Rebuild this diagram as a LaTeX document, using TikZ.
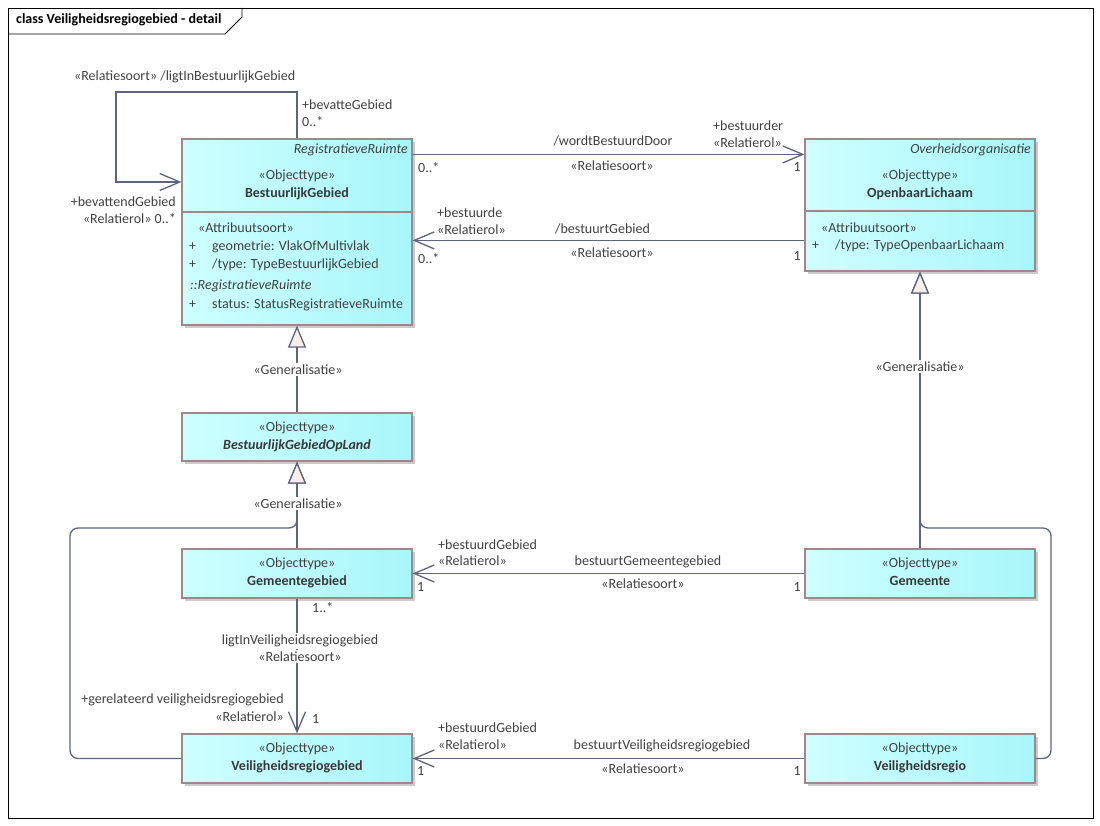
\documentclass[tikz,border=0pt]{standalone}
\usepackage{fontspec}
\setmainfont{Carlito}
\usetikzlibrary{arrows.meta,shadows,calc}
\definecolor{txt}{RGB}{64,64,64}
\definecolor{ln}{RGB}{92,100,128}
\definecolor{bd}{RGB}{160,136,136}
\definecolor{fl}{RGB}{206,255,255}
\definecolor{fr}{RGB}{168,246,250}
\definecolor{gf}{RGB}{248,238,234}
\newcommand{\fsz}{\fontsize{14pt}{16pt}\selectfont}
\tikzset{
  cls/.style={draw=bd, line width=1.2pt, left color=fl, right color=fr,
    drop shadow={shadow xshift=3pt,shadow yshift=-3pt,fill=black!20,opacity=1},
    inner sep=0pt, minimum width=230pt},
  conn/.style={draw=ln, line width=1.3pt},
  nav/.style={conn, -{Straight Barb[length=20pt,width=17pt]}},
  gen/.style={conn, -{Triangle[length=22pt,width=18pt,fill=gf]}},
  lbl/.style={text=txt, inner sep=0pt, anchor=mid},
  lw/.style={lbl, anchor=mid west},
  le/.style={lbl, anchor=mid east},
  brk/.style={lbl, fill=white, inner sep=2pt},
  nm/.style={lbl, font=\fsz\bfseries, text=black!78},
  it/.style={font=\fsz\itshape},
}
\begin{document}
\begin{tikzpicture}[x=1pt,y=-1pt,font=\fsz]
\useasboundingbox (0,0) rectangle (1100,826);
% frame
\draw[black, line width=0.8pt] (8,8) rectangle (1093,818);
\draw[black, line width=0.8pt] (8,34) -- (225,34) -- (242,17) -- (242,8);
\node[lw, font=\fsz\bfseries, text=black] (title) at (16,21) {class Veiligheidsregiogebied - detail};

% boxes
\node[cls, minimum height=186pt] (bg) at (297,232) {};
\node[cls, minimum height=132pt] (ol) at (920,205) {};
\node[cls, minimum height=48pt] (bgol) at (297,437) {};
\node[cls, minimum height=49pt] (gg) at (297,573.5) {};
\node[cls, minimum height=49pt] (gm) at (920,573.5) {};
\node[cls, minimum height=49pt] (vrg) at (297,758.5) {};
\node[cls, minimum height=49pt] (vr) at (920,758.5) {};
\draw[draw=bd, line width=1.2pt] (bg.west |- 0,212) -- (bg.east |- 0,212);
\draw[draw=bd, line width=1.2pt] (ol.west |- 0,211) -- (ol.east |- 0,211);

% BestuurlijkGebied contents
\node[le, it] (bgp) at (408,151) {RegistratieveRuimte};
\node[lbl] (bgs) at (297,177) {«Objecttype»};
\node[nm] (bgn) at (297,195) {BestuurlijkGebied};
\node[lw] (bga) at (198,230) {«Attribuutsoort»};
\node[lw] (bgp1) at (189,248) {+};
\node[lw] (bga1) at (212,248) {geometrie: VlakOfMultivlak};
\node[lw] (bgp2) at (189,266) {+};
\node[lw] (bga2) at (212,266) {/type: TypeBestuurlijkGebied};
\node[lw, it] (bgi) at (190,287) {::RegistratieveRuimte};
\node[lw] (bgp3) at (189,306) {+};
\node[lw] (bga3) at (212,306) {status: StatusRegistratieveRuimte};

% OpenbaarLichaam contents
\node[le, it] (olp) at (1031,151) {Overheidsorganisatie};
\node[lbl] (ols) at (920,177) {«Objecttype»};
\node[nm] (oln) at (920,195) {OpenbaarLichaam};
\node[lw] (ola) at (821,230) {«Attribuutsoort»};
\node[lw] (olp1) at (812,247) {+};
\node[lw] (ola1) at (835,247) {/type: TypeOpenbaarLichaam};

% other boxes
\node[lbl] (bgols) at (297,429) {«Objecttype»};
\node[nm, font=\fsz\bfseries\itshape] (bgoln) at (297,447) {BestuurlijkGebiedOpLand};
\node[lbl] (ggs) at (297,565) {«Objecttype»};
\node[nm] (ggn) at (297,583) {Gemeentegebied};
\node[lbl] (gms) at (920,565) {«Objecttype»};
\node[nm] (gmn) at (920,583) {Gemeente};
\node[lbl] (vrgs) at (297,750) {«Objecttype»};
\node[nm] (vrgn) at (297,768) {Veiligheidsregiogebied};
\node[lbl] (vrs) at (920,750) {«Objecttype»};
\node[nm] (vrn) at (920,768) {Veiligheidsregio};

% self loop
\coordinate (l1) at (297,92);
\coordinate (l2) at (116,92);
\coordinate (l3) at (116,182);
\draw[nav] (bg.north) -- (l1) -- (l2) -- (l3) -- (bg.west |- l3);
\node[lw] (sl1) at (74,78) {«Relatiesoort» /ligtInBestuurlijkGebied};
\node[lw] (sl2) at (302,107) {+bevatteGebied};
\node[lw] (sl3) at (302,124) {0..*};
\node[le] (sl4) at (176,204) {+bevattendGebied};
\node[le] (sl5) at (176,221) {«Relatierol» 0..*};

% wordtBestuurdDoor
\draw[nav] ($(bg.north east)+(0,16)$) -- ($(ol.north west)+(0,16)$);
\node[lbl] (a1n) at (613,143) {/wordtBestuurdDoor};
\node[lbl] (a1s) at (612,168) {«Relatiesoort»};
\node[lw] (a1m1) at (418,170) {0..*};
\node[lw] (a1r1) at (713,128) {+bestuurder};
\node[lw] (a1r2) at (713,145) {«Relatierol»};
\node[le] (a1m2) at (801,169) {1};

% bestuurtGebied
\draw[nav] ($(ol.north west)+(0,102)$) -- ($(bg.north east)+(0,102)$);
\node[lw] (a2r1) at (437,215) {+bestuurde};
\node[lw] (a2r2) at (437,232) {«Relatierol»};
\node[lw] (a2n) at (555,231) {/bestuurtGebied};
\node[lbl] (a2s) at (612,255) {«Relatiesoort»};
\node[lw] (a2m1) at (418,261) {0..*};
\node[le] (a2m2) at (801,258) {1};

% generalisations
\draw[gen] (bgol.north) -- (bg.south);
\node[brk] (g1) at (298,372) {«Generalisatie»};
\draw[gen] (gg.north) -- (bgol.south);
\draw[gen, rounded corners=8pt] (vrg.west) -- (70,758.5) -- (70,528) -- (297,528) -- (bgol.south);
\node[brk] (g2) at (298,506) {«Generalisatie»};
\draw[gen] (gm.north) -- (ol.south);
\draw[gen, rounded corners=8pt] (vr.east) -- (1051,758.5) -- (1051,528) -- (920,528) -- (ol.south);
\node[brk] (g3) at (920,369) {«Generalisatie»};

% bestuurtGemeentegebied
\draw[nav] (gm.west) -- (gg.east);
\node[lw] (a3r1) at (438,547) {+bestuurdGebied};
\node[lw] (a3r2) at (438,563) {«Relatierol»};
\node[lbl] (a3n) at (648,563) {bestuurtGemeentegebied};
\node[lbl] (a3s) at (643,586) {«Relatiesoort»};
\node[lw] (a3m1) at (417,589) {1};
\node[le] (a3m2) at (801,589) {1};

% bestuurtVeiligheidsregiogebied
\draw[nav] (vr.west) -- (vrg.east);
\node[lw] (a4r1) at (438,730) {+bestuurdGebied};
\node[lw] (a4r2) at (438,747) {«Relatierol»};
\node[lbl] (a4n) at (662,747) {bestuurtVeiligheidsregiogebied};
\node[lbl] (a4s) at (643,771) {«Relatiesoort»};
\node[lw] (a4m1) at (417,773) {1};
\node[le] (a4m2) at (801,773) {1};

% ligtInVeiligheidsregiogebied
\draw[nav] (gg.south) -- (vrg.north);
\node[lw] (a5m1) at (312,610) {1..*};
\node[brk] (a5n) at (300,642) {ligtInVeiligheidsregiogebied};
\node[brk] (a5s) at (300,659) {«Relatiesoort»};
\node[le] (a5r1) at (284,701) {+gerelateerd veiligheidsregiogebied};
\node[le] (a5r2) at (284,719) {«Relatierol»};
\node[lw] (a5m2) at (312,721) {1};
\end{tikzpicture}
\end{document}
